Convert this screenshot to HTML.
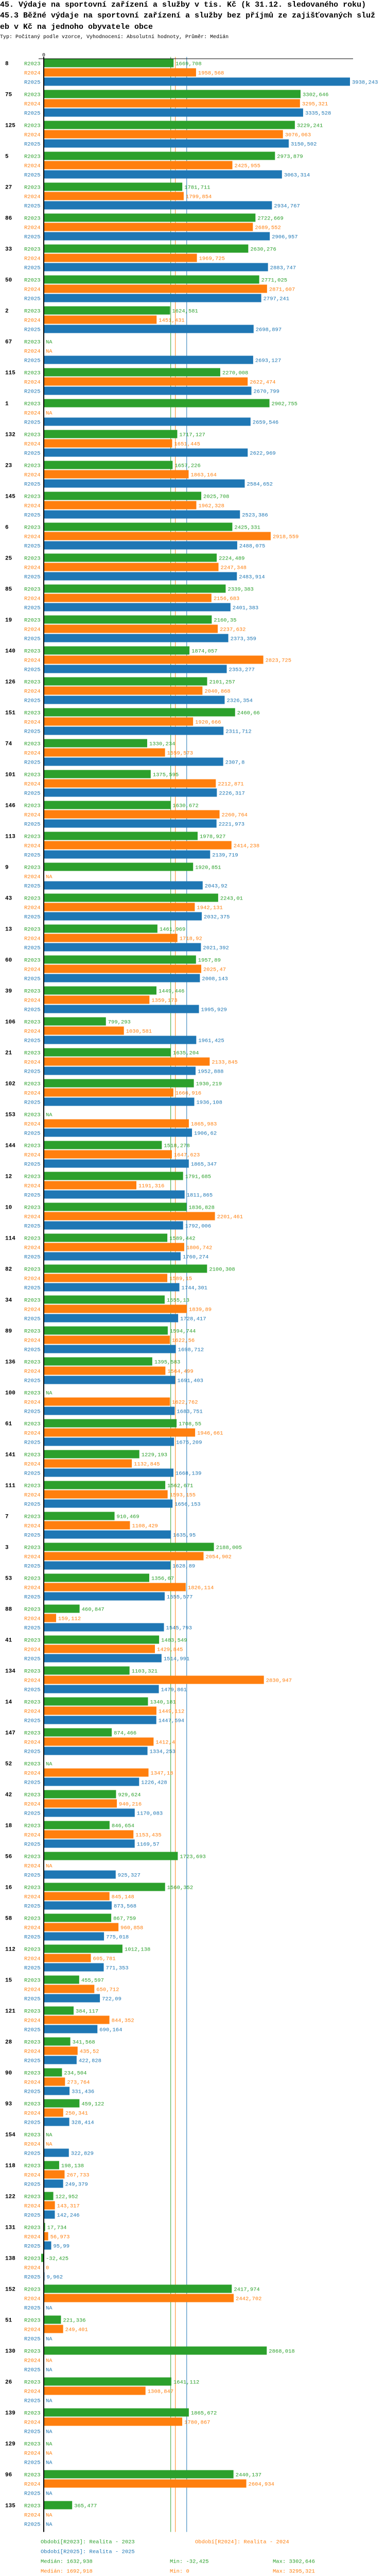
<!DOCTYPE html>
<html><head><meta charset="utf-8">
<style>
html{margin:0;padding:0;width:750px;height:5034px;overflow:hidden;background:#fff;}
body{margin:0;padding:0;background:#fff;width:750px;height:5034px;overflow:hidden;position:relative;font-family:"Liberation Mono",monospace;}
.t{position:absolute;left:0;white-space:nowrap;font-weight:bold;font-size:15px;line-height:17px;color:#000;}
.s{position:absolute;left:0;white-space:nowrap;font-size:10px;line-height:12px;color:#000;}
svg{position:absolute;left:0;top:0;display:block;}
svg text{font-family:"Liberation Mono",monospace;}
</style></head>
<body>
<div class="t" style="top:1px">45. Výdaje na sportovní zařízení a služby v tis. Kč (k 31.12. sledovaného roku)</div>
<div class="t" style="top:22px">45.3 Běžné výdaje na sportovní zařízení a služby bez příjmů ze zajišťovaných služ</div>
<div class="t" style="top:44px">eb v Kč na jednoho obyvatele obce</div>
<div class="s" style="top:67px">Typ: Počítaný podle vzorce, Vyhodnocení: Absolutní hodnoty, Průměr: Medián</div>
<svg id="chart" width="750" height="5034"></svg>
<script>
const categories=["8","75","125","5","27","86","33","50","2","67","115","1","132","23","145","6","25","85","19","140","126","151","74","101","146","113","9","43","13","60","39","106","21","102","153","144","12","10","114","82","34","89","136","100","61","141","111","7","3","53","88","41","134","14","147","52","42","18","56","16","58","112","15","121","28","90","93","154","118","122","131","138","152","51","130","26","139","129","96","135"];
const r2023=[1669.708,3302.646,3229.241,2973.879,1781.711,2722.669,2630.276,2771.025,1624.581,null,2270.008,2902.755,1717.127,1657.226,2025.708,2425.331,2224.489,2339.383,2160.35,1874.057,2101.257,2460.66,1330.234,1375.595,1630.672,1978.927,1920.851,2243.01,1461.969,1957.89,1449.446,799.293,1635.204,1930.219,null,1518.278,1791.685,1836.828,1589.442,2100.308,1555.13,1594.744,1395.583,null,1708.55,1229.193,1562.671,910.469,2188.005,1356.67,460.847,1483.549,1103.321,1340.181,874.466,null,929.624,846.654,1723.693,1560.352,867.759,1012.138,455.597,384.117,341.568,234.504,459.122,null,198.138,122.952,17.734,-32.425,2417.974,221.336,2868.018,1641.112,1865.672,null,2440.137,365.477];
const r2024=[1958.568,3295.321,3076.063,2425.955,1799.854,2689.552,1969.725,2871.607,1451.431,null,2622.474,null,1651.445,1863.164,1962.328,2918.559,2247.348,2156.683,2237.632,2823.725,2040.868,1920.666,1559.573,2212.871,2260.764,2414.238,null,1942.131,1718.92,2025.47,1359.173,1030.581,2133.845,1666.916,1865.983,1647.623,1191.316,2201.461,1806.742,1589.15,1839.89,1622.56,1564.499,1622.762,1946.661,1132.845,1593.155,1108.429,2054.902,1826.114,159.112,1429.845,2830.947,1449.112,1412.4,1347.18,940.216,1153.435,null,845.148,960.858,605.781,650.712,844.352,435.52,273.764,250.341,null,267.733,143.317,56.973,0,2442.702,249.401,null,1308.847,1780.867,null,2604.934,null];
const r2025=[3938.243,3335.528,3150.502,3063.314,2934.767,2906.957,2883.747,2797.241,2698.897,2693.127,2670.799,2659.546,2622.969,2584.652,2523.386,2488.075,2483.914,2401.383,2373.359,2353.277,2326.354,2311.712,2307.8,2226.317,2221.973,2139.719,2043.92,2032.375,2021.392,2008.143,1995.929,1961.425,1952.888,1936.108,1906.62,1865.347,1811.865,1792.006,1760.274,1744.301,1728.417,1698.712,1691.403,1683.751,1675.209,1668.139,1656.153,1635.95,1628.89,1555.577,1545.793,1514.991,1479.861,1447.594,1334.253,1226.428,1170.083,1169.57,925.327,873.568,775.018,771.353,722.09,690.164,422.828,331.436,328.414,322.829,249.379,142.246,95.99,9.962,null,null,null,null,null,null,null,null];
const seriesNames=["R2023","R2024","R2025"];
const medians=[1632.938,1692.918,1838.606];
const mins=["-32,425","0","9,962"];
const maxs=["3302,646","3295,321","3938,243"];
const medianLabels=["1632,938","1692,918","1838,606"];
const legendLabels=["Období[R2023]: Realita - 2023","Období[R2024]: Realita - 2024","Období[R2025]: Realita - 2025"];

const colors=["#2ca02c","#ff7f0e","#1f77b4"];
const NS="http://www.w3.org/2000/svg";
const svg=document.getElementById("chart");
const X0=85, KX=595/3938.243, TOP=114.5, GROUP=60, ROW=18, BH=16;
const x=v=>X0+v*KX;
const yRow=(g,s)=>TOP+g*GROUP+s*ROW;
const series=[r2023,r2024,r2025];
const plotBottom=yRow(categories.length-1,2)+BH+8;
function mk(tag,attrs,parent){const e=document.createElementNS(NS,tag);for(const k in attrs)e.setAttribute(k,attrs[k]);(parent||svg).appendChild(e);return e;}
function fmt(v){return String(v).replace('.',',');}

medians.forEach((m,i)=>{
  const l=mk("line",{x1:x(m),x2:x(m),y1:TOP-4,y2:plotBottom,stroke:colors[i],"stroke-width":1});
  
  
});
const ax=mk("line",{x1:X0-10,x2:686,y1:TOP-0.5,y2:TOP-0.5,stroke:"#000","stroke-width":1});


const zl=mk("text",{x:X0,y:TOP-5,"font-size":"10","text-anchor":"middle",fill:"#000"});
zl.textContent="0";



categories.forEach((c,g)=>{
  const gl=mk("text",{x:10,y:yRow(g,0)+12,"font-size":"11","font-weight":"bold",fill:"#000"});
  gl.textContent=c;
  
  
  series.forEach((arr,s)=>{
    const y=yRow(g,s);
    const sl=mk("text",{x:47,y:y+12,"font-size":"10.5",fill:colors[s]});
    sl.textContent=seriesNames[s];
    
    
    const v=arr[g];
    let lx=X0+4, txt="NA";
    if(v!==null){
      const x1=Math.min(x(0),x(v)), w=Math.abs(x(v)-x(0));
      if(w>0){
        const b=mk("rect",{x:x1,y:y,width:w,height:BH,fill:colors[s]});
        
        
      }
      lx=Math.max(x(v),X0)+4; txt=fmt(v);
    }
    const vl=mk("text",{x:lx,y:y+12,"font-size":"10.5",fill:colors[s]});
    vl.textContent=txt;
    
    
  });
});
const ya=mk("line",{x1:X0,x2:X0,y1:TOP-4,y2:plotBottom,stroke:"#000","stroke-width":2});



const LY=plotBottom+22;
const legPos=[[79,LY],[379,LY],[79,LY+19]];
legendLabels.forEach((t,i)=>{
  const e=mk("text",{x:legPos[i][0],y:legPos[i][1],"font-size":"10.5",fill:colors[i]});
  e.textContent=t;
  
  
});
medians.forEach((m,i)=>{
  const y=LY+38+i*19;
  const a=mk("text",{x:79,y:y,"font-size":"10.5",fill:colors[i]});
  a.textContent="Medián: "+medianLabels[i];
  
  
  const b=mk("text",{x:330,y:y,"font-size":"10.5",fill:colors[i]});
  b.textContent="Min: "+mins[i];
  
  
  const d=mk("text",{x:530,y:y,"font-size":"10.5",fill:colors[i]});
  d.textContent="Max: "+maxs[i];
  
  
});
</script>
</body></html>
